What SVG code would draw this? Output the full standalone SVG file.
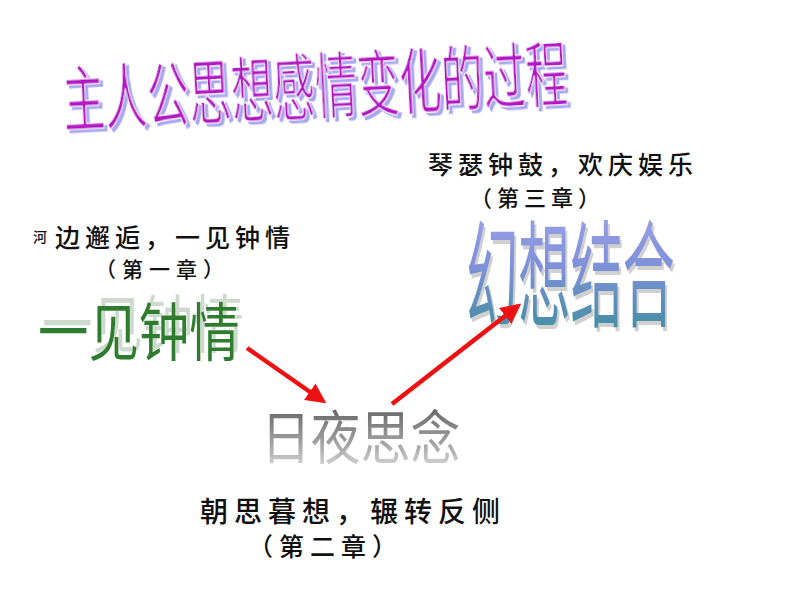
<svg xmlns="http://www.w3.org/2000/svg" width="794" height="596" viewBox="0 0 794 596">
<style>
.cjk{font-family:"Noto Sans CJK SC","Noto Sans",sans-serif}
.hand{font-family:"Noto Sans CJK SC","Noto Sans",sans-serif;fill:#111;font-weight:500}
.arrow{stroke:#ee1111;stroke-width:4.5;fill:none;marker-end:url(#ah)}
</style>
<defs>
<marker id="ah" viewBox="0 0 10 10" refX="8" refY="5" markerWidth="4.5" markerHeight="4.5" orient="auto" markerUnits="strokeWidth">
<path d="M0,0 L10,5 L0,10 z" fill="#ee1111"/>
</marker>
<linearGradient id="gGray" x1="0" y1="0" x2="0" y2="1">
<stop offset="0" stop-color="#4a4a4a"/>
<stop offset="0.6" stop-color="#a0a0a0"/>
<stop offset="1" stop-color="#e8e8e8"/>
</linearGradient>
<linearGradient id="gBlue" x1="0" y1="0" x2="0" y2="1">
<stop offset="0" stop-color="#a8a8f0"/>
<stop offset="0.5" stop-color="#7d90d8"/>
<stop offset="1" stop-color="#2f9090"/>
</linearGradient>
<filter id="shTitle" x="-5%" y="-10%" width="115%" height="130%">
<feOffset in="SourceAlpha" dx="5" dy="3" result="o"/>
<feFlood flood-color="#a8a8f0"/>
<feComposite in2="o" operator="in" result="s"/>
<feMerge><feMergeNode in="s"/><feMergeNode in="SourceGraphic"/></feMerge>
</filter>
<filter id="shGreen" x="-5%" y="-20%" width="115%" height="140%">
<feOffset in="SourceAlpha" dx="5" dy="-8" result="o"/>
<feFlood flood-color="#cfdacf"/>
<feComposite in2="o" operator="in" result="s"/>
<feMerge><feMergeNode in="s"/><feMergeNode in="SourceGraphic"/></feMerge>
</filter>
<filter id="shBlue" x="-5%" y="-10%" width="120%" height="130%">
<feOffset in="SourceAlpha" dx="4" dy="4" result="o"/>
<feFlood flood-color="#d0d0d0"/>
<feComposite in2="o" operator="in" result="s"/>
<feMerge><feMergeNode in="s"/><feMergeNode in="SourceGraphic"/></feMerge>
</filter>
</defs>

<g id="title">
<g transform="translate(64,126) rotate(-3) scale(0.585,1)" filter="url(#shTitle)">
<text class="cjk" x="0" y="0" font-size="72" fill="#b418c4" stroke="#ffffff" stroke-width="1.2">主人公思想感情变化的过程</text>
</g>
</g>

<g id="chapter1-label">
<text class="hand" x="33" y="242" font-size="14">河</text>
<text class="hand" x="55" y="247" font-size="25" letter-spacing="5">边邂逅，一见钟情</text>
<text class="hand" x="95" y="277" font-size="21" letter-spacing="6">（第一章）</text>
</g>

<g id="node-yijianzhongqing">
<g transform="translate(38,355) scale(0.8,1)" filter="url(#shGreen)">
<text class="cjk" x="0" y="0" font-size="63" fill="#2e7d2e">一见钟情</text>
</g>
</g>

<g id="chapter3-label">
<text class="hand" x="428" y="174" font-size="25" letter-spacing="5">琴瑟钟鼓，欢庆娱乐</text>
<text class="hand" x="470" y="206" font-size="22" letter-spacing="5">（第三章）</text>
</g>

<g id="node-huanxiangjiehe">
<g transform="translate(466,318) scale(0.45,1)" filter="url(#shBlue)">
<text class="cjk" x="0" y="0" font-size="116" fill="url(#gBlue)">幻想结合</text>
</g>
</g>

<g id="node-riyesinian">
<g transform="translate(261,459) scale(0.86,1)">
<text class="cjk" x="0" y="0" font-size="58" fill="url(#gGray)">日夜思念</text>
</g>
</g>

<g id="chapter2-label">
<text class="hand" x="200" y="522" font-size="28" letter-spacing="6">朝思暮想，辗转反侧</text>
<text class="hand" x="248" y="556" font-size="25" letter-spacing="6">（第二章）</text>
</g>

<g id="connectors">
<line class="arrow" x1="247" y1="348" x2="323" y2="401"/>
<line class="arrow" x1="392" y1="404" x2="518" y2="306"/>
</g>
</svg>
